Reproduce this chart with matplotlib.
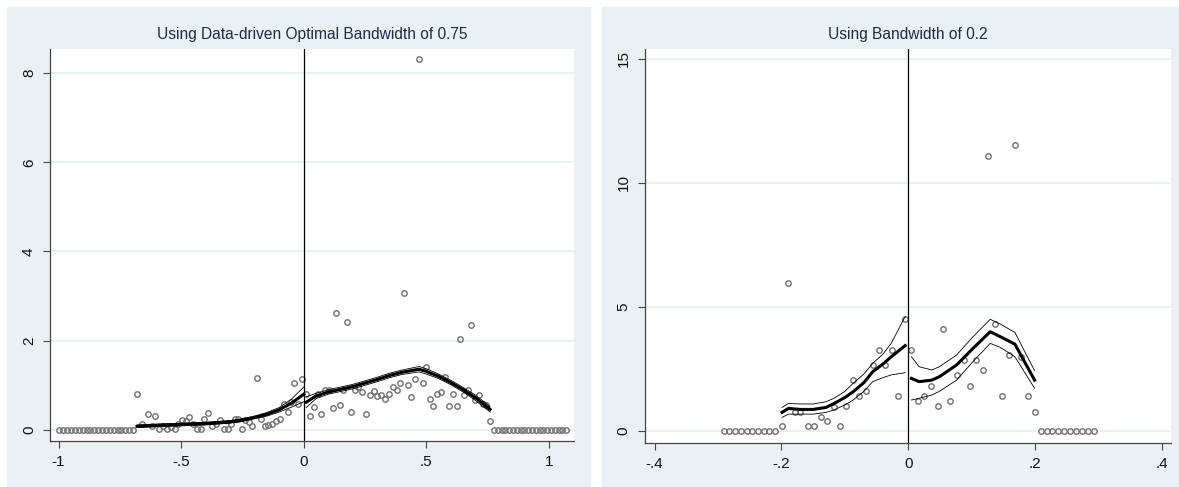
import numpy as np
import matplotlib.pyplot as plt
from matplotlib.patches import Rectangle

plt.rcParams["font.family"] = ["Liberation Sans", "DejaVu Sans"]

# ---------------- left panel: bandwidth 0.75 ----------------
left_zero_x = [-0.997, -0.981, -0.965, -0.949, -0.934, -0.918, -0.902, -0.886,
               -0.870, -0.854, -0.839, -0.823, -0.807, -0.791, -0.775, -0.759,
               -0.744, -0.728, -0.712, -0.696,
               0.776, 0.791, 0.807, 0.822, 0.838, 0.853, 0.869, 0.884, 0.900,
               0.915, 0.931, 0.946, 0.962, 0.977, 0.993, 1.008, 1.024, 1.039,
               1.054, 1.069]
left_x = [-0.681, -0.660, -0.637, -0.621, -0.606, -0.590, -0.574, -0.559, -0.543,
          -0.527, -0.512, -0.496, -0.480, -0.468, -0.452, -0.437, -0.421, -0.405,
          -0.390, -0.374, -0.358, -0.343, -0.327, -0.311, -0.296, -0.280, -0.269,
          -0.254, -0.238, -0.222, -0.210, -0.192, -0.175, -0.160, -0.144, -0.128,
          -0.113, -0.097, -0.081, -0.066, -0.053, -0.038, -0.022, -0.006,
          0.009, 0.025, 0.041, 0.056, 0.072, 0.088, 0.103, 0.119, 0.130, 0.146,
          0.161, 0.177, 0.191, 0.207, 0.222, 0.238, 0.254, 0.269, 0.285, 0.300,
          0.316, 0.332, 0.347, 0.363, 0.379, 0.394, 0.407, 0.426, 0.438, 0.454,
          0.471, 0.487, 0.499, 0.515, 0.529, 0.545, 0.560, 0.576, 0.592, 0.607,
          0.623, 0.638, 0.654, 0.670, 0.682, 0.698, 0.714, 0.729, 0.745, 0.761]
left_y = [0.81, 0.14, 0.35, 0.08, 0.31, 0.03, 0.08, 0.01, 0.07,
          0.01, 0.14, 0.22, 0.20, 0.29, 0.13, 0.01, 0.03, 0.25,
          0.37, 0.08, 0.14, 0.22, 0.03, 0.03, 0.14, 0.25, 0.25,
          0.01, 0.22, 0.18, 0.08, 1.17, 0.25, 0.08, 0.10, 0.13,
          0.20, 0.25, 0.59, 0.39, 0.63, 1.05, 0.59, 1.13,
          0.81, 0.31, 0.52, 0.81, 0.35, 0.89, 0.89, 0.50, 2.61, 0.55,
          0.89, 2.41, 0.39, 0.89, 0.96, 0.85, 0.35, 0.78, 0.87, 0.76,
          0.78, 0.70, 0.81, 0.96, 0.90, 1.05, 3.07, 1.00, 0.74, 1.15,
          8.31, 1.04, 1.41, 0.70, 0.53, 0.81, 0.85, 1.19, 0.53, 0.81,
          0.53, 2.03, 0.78, 0.89, 2.35, 0.67, 0.78, 0.59, 0.55, 0.20]

# local linear fit and CI, below cutoff
l_fit_lo_x = [-0.68, -0.6, -0.5, -0.4, -0.3, -0.25, -0.2, -0.15, -0.1, -0.05, 0.0]
l_fit_lo = [0.08, 0.10, 0.12, 0.14, 0.18, 0.22, 0.28, 0.35, 0.45, 0.60, 0.80]
l_ci_lo_up = [0.11, 0.13, 0.15, 0.17, 0.21, 0.25, 0.31, 0.39, 0.50, 0.69, 0.96]
l_ci_lo_dn = [0.05, 0.07, 0.09, 0.11, 0.15, 0.19, 0.25, 0.31, 0.40, 0.51, 0.63]
# above cutoff
l_fit_hi_x = [0.01, 0.05, 0.1, 0.15, 0.2, 0.25, 0.3, 0.35, 0.4, 0.47, 0.5,
              0.55, 0.6, 0.65, 0.7, 0.76]
l_fit_hi = [0.62, 0.76, 0.85, 0.91, 0.97, 1.05, 1.13, 1.22, 1.29, 1.36, 1.31,
            1.20, 1.06, 0.90, 0.72, 0.46]
l_ci_hi_up = [0.74, 0.82, 0.90, 0.96, 1.02, 1.10, 1.18, 1.27, 1.34, 1.42, 1.37,
              1.25, 1.11, 0.95, 0.78, 0.52]
l_ci_hi_dn = [0.50, 0.70, 0.80, 0.86, 0.92, 1.00, 1.08, 1.17, 1.24, 1.30, 1.25,
              1.15, 1.01, 0.85, 0.66, 0.40]

# ---------------- right panel: bandwidth 0.2 ----------------
right_zero_x = [-0.291, -0.282, -0.273, -0.264, -0.255, -0.246, -0.237, -0.228,
                -0.219, -0.210,
                0.209, 0.218, 0.227, 0.236, 0.246, 0.255, 0.264, 0.273, 0.283, 0.292]
right_x = [-0.199, -0.189, -0.179, -0.170, -0.158, -0.149, -0.138, -0.128, -0.117,
           -0.108, -0.098, -0.087, -0.077, -0.066, -0.056, -0.046, -0.036, -0.025,
           -0.016, -0.005,
           0.005, 0.015, 0.025, 0.036, 0.046, 0.055, 0.066, 0.076, 0.087, 0.097,
           0.107, 0.117, 0.126, 0.137, 0.147, 0.158, 0.168, 0.177, 0.189, 0.199]
right_y = [0.20, 5.95, 0.78, 0.78, 0.20, 0.20, 0.58, 0.42, 0.95,
           0.20, 1.01, 2.05, 1.41, 1.62, 2.66, 3.26, 2.66, 3.26,
           1.41, 4.51,
           3.26, 1.21, 1.41, 1.83, 1.01, 4.10, 1.21, 2.26, 2.86, 1.83,
           2.86, 2.46, 11.09, 4.31, 1.41, 3.05, 11.51, 3.00, 1.41, 0.78]

r_fit_lo_x = [-0.199, -0.189, -0.17, -0.15, -0.13, -0.117, -0.1, -0.087, -0.07,
              -0.056, -0.04, -0.027, -0.005]
r_fit_lo = [0.75, 0.91, 0.87, 0.87, 0.95, 1.11, 1.35, 1.58, 1.95, 2.39, 2.70,
            2.99, 3.44]
r_ci_lo_up = [0.95, 1.11, 1.09, 1.09, 1.18, 1.32, 1.60, 1.92, 2.30, 2.73, 3.10,
              3.53, 4.61]
r_ci_lo_dn = [0.55, 0.68, 0.68, 0.68, 0.75, 0.85, 1.05, 1.25, 1.60, 1.99, 2.15,
              2.26, 2.35]
r_fit_hi_x = [0.005, 0.017, 0.037, 0.049, 0.076, 0.102, 0.129, 0.145, 0.168, 0.199]
r_fit_hi = [2.12, 1.99, 2.05, 2.19, 2.66, 3.33, 4.00, 3.80, 3.50, 2.05]
r_ci_hi_up = [2.99, 2.59, 2.46, 2.59, 3.06, 3.80, 4.50, 4.31, 3.97, 2.43]
r_ci_hi_dn = [1.25, 1.32, 1.45, 1.60, 2.05, 2.80, 3.53, 3.37, 2.99, 1.72]

left_xticks = [-1, -0.5, 0, 0.5, 1]
left_xlabels = ["-1", "-.5", "0", ".5", "1"]
left_yticks = [0, 2, 4, 6, 8]
right_xticks = [-0.4, -0.2, 0, 0.2, 0.4]
right_xlabels = ["-.4", "-.2", "0", ".2", ".4"]
right_yticks = [0, 5, 10, 15]

W, H = 1179, 487
fig = plt.figure(figsize=(W / 100, H / 100), dpi=100)
bg = "#eaf1f3"
fig.patches.append(Rectangle((7 / W, 0), (590 - 7) / W, 1 - 7 / H,
                             transform=fig.transFigure, color=bg, zorder=-10))
fig.patches.append(Rectangle((602 / W, 0), (W - 602) / W, 1 - 7 / H,
                             transform=fig.transFigure, color=bg, zorder=-10))

ax1 = fig.add_axes([50 / W, (H - 441) / H, (574 - 50) / W, (441 - 49) / H])
ax2 = fig.add_axes([644.5 / W, (H - 442.7) / H, (1171 - 644.5) / W, (442.7 - 49) / H])

panels = [
    (ax1, "Using Data-driven Optimal Bandwidth of 0.75",
     left_zero_x, left_x, left_y,
     (l_fit_lo_x, l_fit_lo, l_ci_lo_up, l_ci_lo_dn),
     (l_fit_hi_x, l_fit_hi, l_ci_hi_up, l_ci_hi_dn),
     left_xticks, left_xlabels, left_yticks, (-1.035, 1.102), (-0.25, 8.54)),
    (ax2, "Using Bandwidth of 0.2",
     right_zero_x, right_x, right_y,
     (r_fit_lo_x, r_fit_lo, r_ci_lo_up, r_ci_lo_dn),
     (r_fit_hi_x, r_fit_hi, r_ci_hi_up, r_ci_hi_dn),
     right_xticks, right_xlabels, right_yticks, (-0.4158, 0.414), (-0.47, 15.39)),
]

for ax, title, zx, px, py, lo, hi, xt, xl, yt, xlim, ylim in panels:
    ax.set_zorder(2)
    ax.set_facecolor("white")
    for g in yt:
        ax.axhline(g, color=bg, lw=1.4, zorder=1)
    # scatter of bin means
    ax.plot(zx, np.zeros(len(zx)), "o", mfc="none", mec="#707070", ms=3.9, mew=1.0, zorder=3)
    ax.plot(px, py, "o", mfc="none", mec="#707070", ms=3.9, mew=1.0, zorder=3)
    for side in (lo, hi):
        sx, fit, up, dn = side
        ax.plot(sx, up, color="black", lw=0.6, zorder=4)
        ax.plot(sx, dn, color="black", lw=0.6, zorder=4)
        ax.plot(sx, fit, color="black", lw=2.2, zorder=5)
    ax.axvline(0, color="black", lw=0.9, zorder=6)

    ax.set_xlim(*xlim)
    ax.set_ylim(*ylim)
    ax.set_xticks(xt)
    ax.set_xticklabels(xl)
    ax.set_yticks(yt)
    ax.set_yticklabels([str(v) for v in yt], rotation=90, va="center")
    ax.tick_params(axis="both", length=5, width=0.8, color="#444444",
                   labelsize=11, labelcolor="#111111", pad=5)
    for s in ("top", "right"):
        ax.spines[s].set_visible(False)
    for s in ("left", "bottom"):
        ax.spines[s].set_color("#444444")
        ax.spines[s].set_linewidth(0.9)

    pos = ax.get_position()
    fig.text((pos.x0 + pos.x1) / 2, 1 - 35 / H, title, ha="center", va="center",
             fontsize=11.2, color="#1e2b4c")

fig.savefig("out.png", dpi=100)
